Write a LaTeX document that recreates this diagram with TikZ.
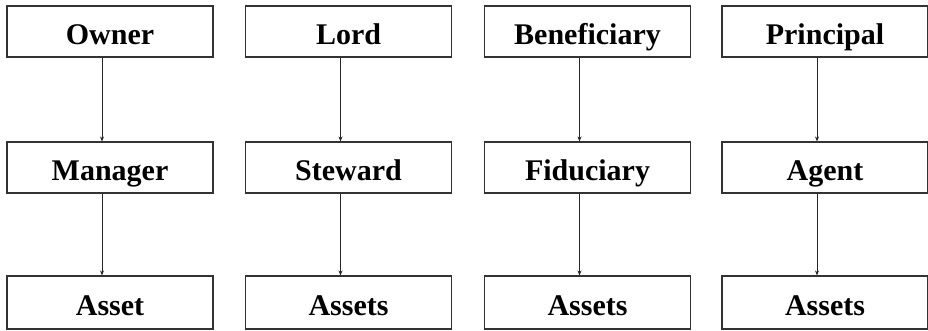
\documentclass[tikz,border=0pt]{standalone}
\usepackage{fontspec}
\setmainfont{Liberation Serif}
\usetikzlibrary{arrows.meta}
\begin{document}
\begin{tikzpicture}[x=1pt,y=-1pt,
  roleBox/.style={draw=black!80, line width=1.1pt, minimum width=206pt, minimum height=51pt, inner sep=0pt, text height=26pt, text depth=0pt, font=\fontsize{30}{34}\selectfont\bfseries},
  link/.style={draw=black!85, line width=0.8pt, -{Stealth[length=5pt,width=4pt]}}]
\useasboundingbox (0,0) rectangle (928,330);
\foreach \i/\a/\b/\c/\cx in {1/Owner/Manager/Asset/110, 2/Lord/Steward/Assets/348.5, 3/Beneficiary/Fiduciary/Assets/587.5, 4/Principal/Agent/Assets/825} {
  \node[roleBox] (t\i) at (\cx,31.5) {\a};
  \node[roleBox] (m\i) at (\cx,167.5) {\b};
  \node[roleBox, minimum height=53pt] (b\i) at (\cx,302.5) {\c};
  \draw[link] ([xshift=-8pt]t\i.south) -- ([xshift=-8pt]m\i.north);
  \draw[link] ([xshift=-8pt]m\i.south) -- ([xshift=-8pt]b\i.north);
}
\end{tikzpicture}
\end{document}
